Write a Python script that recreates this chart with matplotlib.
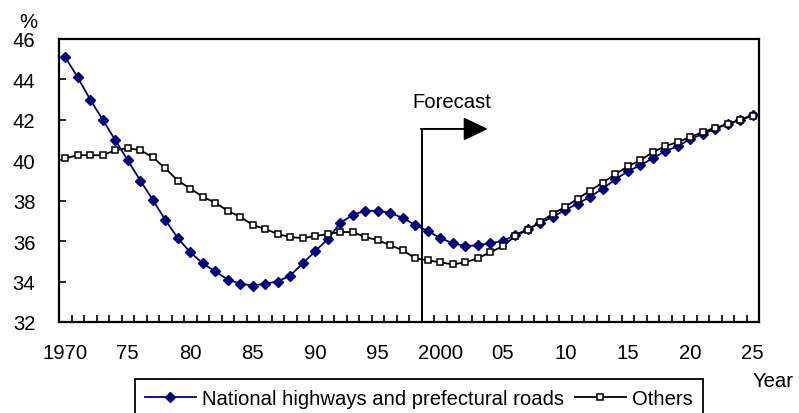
import numpy as np
import matplotlib
matplotlib.use("Agg")
import matplotlib.pyplot as plt

plt.rcParams['font.family'] = ['Liberation Sans', 'DejaVu Sans']
plt.rcParams['font.size'] = 14.6

years = np.arange(1970, 2026)
national = [45.1, 44.1, 43.0, 42.0, 41.0, 40.0, 39.0, 38.05, 37.05, 36.15,
            35.45, 34.9, 34.5, 34.1, 33.9, 33.8, 33.9, 34.0, 34.3, 34.9,
            35.5, 36.1, 36.9, 37.3, 37.5, 37.5, 37.4, 37.15, 36.8, 36.5,
            36.15, 35.9, 35.75, 35.8, 35.9, 36.0, 36.3, 36.6, 36.9, 37.2,
            37.55, 37.85, 38.2, 38.6, 39.05, 39.45, 39.75, 40.1, 40.45, 40.7,
            41.05, 41.3, 41.55, 41.8, 42.0, 42.25]
others = [40.1, 40.25, 40.25, 40.25, 40.5, 40.6, 40.5, 40.15, 39.6, 39.0,
          38.6, 38.2, 37.9, 37.5, 37.2, 36.8, 36.6, 36.35, 36.2, 36.15,
          36.25, 36.35, 36.45, 36.45, 36.2, 36.05, 35.8, 35.55, 35.15, 35.05,
          34.95, 34.85, 34.95, 35.15, 35.45, 35.75, 36.25, 36.55, 36.95, 37.35,
          37.7, 38.1, 38.5, 38.9, 39.3, 39.7, 40.0, 40.4, 40.7, 40.9,
          41.15, 41.4, 41.6, 41.8, 42.0, 42.2]
label_years = [1970, 1975, 1980, 1985, 1990, 1995, 2000, 2005, 2010, 2015, 2020, 2025]
label_text = ['1970', '75', '80', '85', '90', '95', '2000', '05', '10', '15', '20', '25']
forecast_start = 1998.5

fig = plt.figure(figsize=(7.99, 4.14), dpi=100)
ax = fig.add_axes([59 / 799, 1 - 323 / 414, 700 / 799, 283 / 414])

navy = '#000080'
ax.plot(years, national, color=navy, lw=1.3, marker='D', markersize=5.5,
        markerfacecolor=navy, markeredgecolor=navy,
        label='National highways and prefectural roads')
ax.plot(years, others, color='black', lw=1.3, marker='s', markersize=5,
        markerfacecolor='white', markeredgecolor='black', markeredgewidth=1.1,
        label='Others')

# forecast marker
arrow_y = 41.55
ax.plot([forecast_start, forecast_start], [32, arrow_y], color='black', lw=1.4)
ax.annotate('', xy=(2003.8, arrow_y), xytext=(forecast_start - 0.05, arrow_y),
            arrowprops=dict(arrowstyle='-|>,head_length=15,head_width=7.2',
                            mutation_scale=1, color='black', lw=1.4,
                            shrinkA=0, shrinkB=0))
ax.text(2000.9, 42.93, 'Forecast', ha='center', va='center')

ax.set_xlim(1969.5, 2025.5)
ax.set_ylim(32, 46)
ax.set_yticks(np.arange(32, 47, 2))
ax.set_xticks(label_years)
ax.set_xticklabels(label_text)
ax.set_xticks(np.arange(1969.5, 2026, 1), minor=True)
ax.tick_params(axis='x', which='major', length=0, pad=15)
ax.tick_params(axis='x', which='minor', direction='in', length=5, width=1.2)
ax.tick_params(axis='y', direction='in', length=5, width=1.2, pad=17)
for s in ax.spines.values():
    s.set_linewidth(1.6)

fig.text(28 / 799, 1 - 22 / 414, '%', ha='center', va='center')
fig.text(753 / 799, 1 - 382 / 414, 'Year', ha='left', va='center')

leg = ax.legend(loc='upper left', bbox_to_anchor=(135 / 799, 1 - 380 / 414),
                bbox_transform=fig.transFigure, ncol=2, frameon=True,
                fancybox=False, edgecolor='black', framealpha=1,
                handlelength=2.5, handletextpad=0.3, columnspacing=0.55,
                borderpad=0.5, borderaxespad=0)
leg.get_frame().set_linewidth(1.3)

fig.savefig('out.png', dpi=100)
